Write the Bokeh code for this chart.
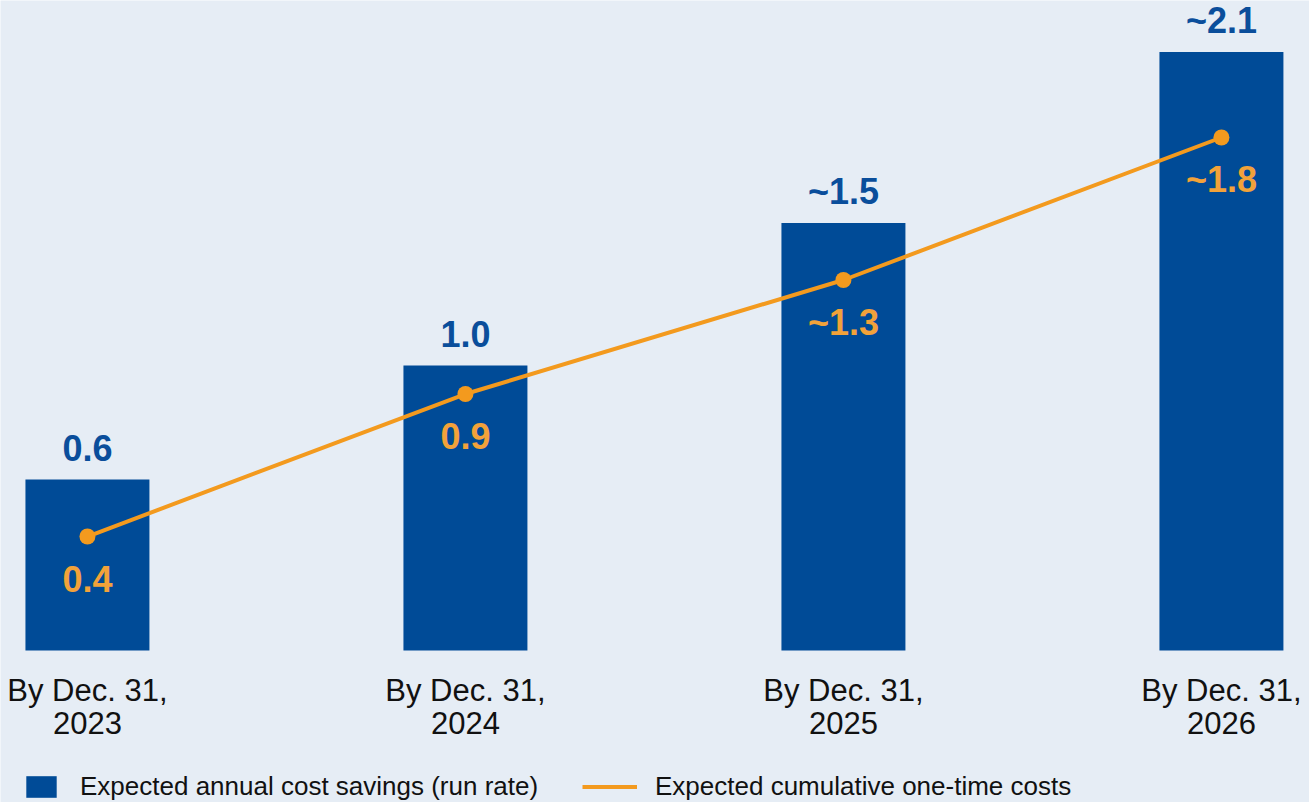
from bokeh.plotting import figure
from bokeh.models import ColumnDataSource, Range1d, Legend, LegendItem
from bokeh.core.properties import value
from bokeh.embed import file_html
from bokeh.resources import INLINE

# ---- data ----
years = ["2023", "2024", "2025", "2026"]
tick_prefix = ["By Dec. 31,", "By Dec. 31,", "By Dec. 31,", "By Dec. 31,"]
savings = [0.6, 1.0, 1.5, 2.1]
savings_labels = ["0.6", "1.0", "~1.5", "~2.1"]
costs = [0.4, 0.9, 1.3, 1.8]
cost_labels = ["0.4", "0.9", "~1.3", "~1.8"]
series_names = ["Expected annual cost savings (run rate)", "Expected cumulative one-time costs"]

BG = "#E6EDF5"
BAR = "#004B97"
BLUE_TXT = "#0A4E9B"
ORANGE = "#F39A1E"
ORANGE_TXT = "#F2A23A"
FONT_NAME = "Liberation Sans"
FONT = value(FONT_NAME)

xs = list(range(len(years)))
src = ColumnDataSource(dict(
    x=xs, years=years, prefix=tick_prefix,
    savings=savings, savings_labels=savings_labels,
    costs=costs, cost_labels=cost_labels,
    zero=[0] * len(years),
))

p = figure(width=1309, height=802, output_backend="svg", toolbar_location=None,
           x_axis_location=None, y_axis_location=None,
           x_range=Range1d(-0.23, 3.233), y_range=Range1d(-0.5333, 2.2807),
           min_border=0, background_fill_color=BG, border_fill_color=BG,
           outline_line_color=None)
p.grid.visible = False

bars = p.vbar(x="x", top="savings", width=0.328, bottom=0, source=src,
              fill_color=BAR, line_color=None)

line = p.line(x="x", y="costs", source=src, line_color=ORANGE, line_width=4)
p.scatter(x="x", y="costs", source=src, size=16, fill_color=ORANGE, line_color=None)

p.text(x="x", y="savings", text="savings_labels", source=src, y_offset=-32,
       text_align="center", text_baseline="middle", text_color=BLUE_TXT,
       text_font=FONT, text_font_style="bold", text_font_size="36px")
p.text(x="x", y="costs", text="cost_labels", source=src, y_offset=42,
       text_align="center", text_baseline="middle", text_color=ORANGE_TXT,
       text_font=FONT, text_font_style="bold", text_font_size="36px")

p.text(x="x", y="zero", text="prefix", source=src, y_offset=40,
       text_align="center", text_baseline="middle", text_color="#111111",
       text_font=FONT, text_font_size="31px")
p.text(x="x", y="zero", text="years", source=src, y_offset=72,
       text_align="center", text_baseline="middle", text_color="#111111",
       text_font=FONT, text_font_size="31px")

leg1 = Legend(items=[LegendItem(label=series_names[0], renderers=[bars])],
              location=(22, 0), orientation="horizontal",
              glyph_width=38, glyph_height=27, label_standoff=20,
              padding=0, margin=0, spacing=0,
              background_fill_alpha=0, border_line_color=None,
              label_text_font=FONT_NAME, label_text_font_size="26px",
              label_text_color="#111111", label_height=27)
leg2 = Legend(items=[LegendItem(label=series_names[1], renderers=[line])],
              location=(582, 0), orientation="horizontal",
              glyph_width=55, glyph_height=27, label_standoff=18,
              padding=0, margin=0, spacing=0,
              background_fill_alpha=0, border_line_color=None,
              label_text_font=FONT_NAME, label_text_font_size="26px",
              label_text_color="#111111", label_height=27)
p.add_layout(leg1, "center")
p.add_layout(leg2, "center")

open("out.html", "w").write(file_html(p, INLINE))
